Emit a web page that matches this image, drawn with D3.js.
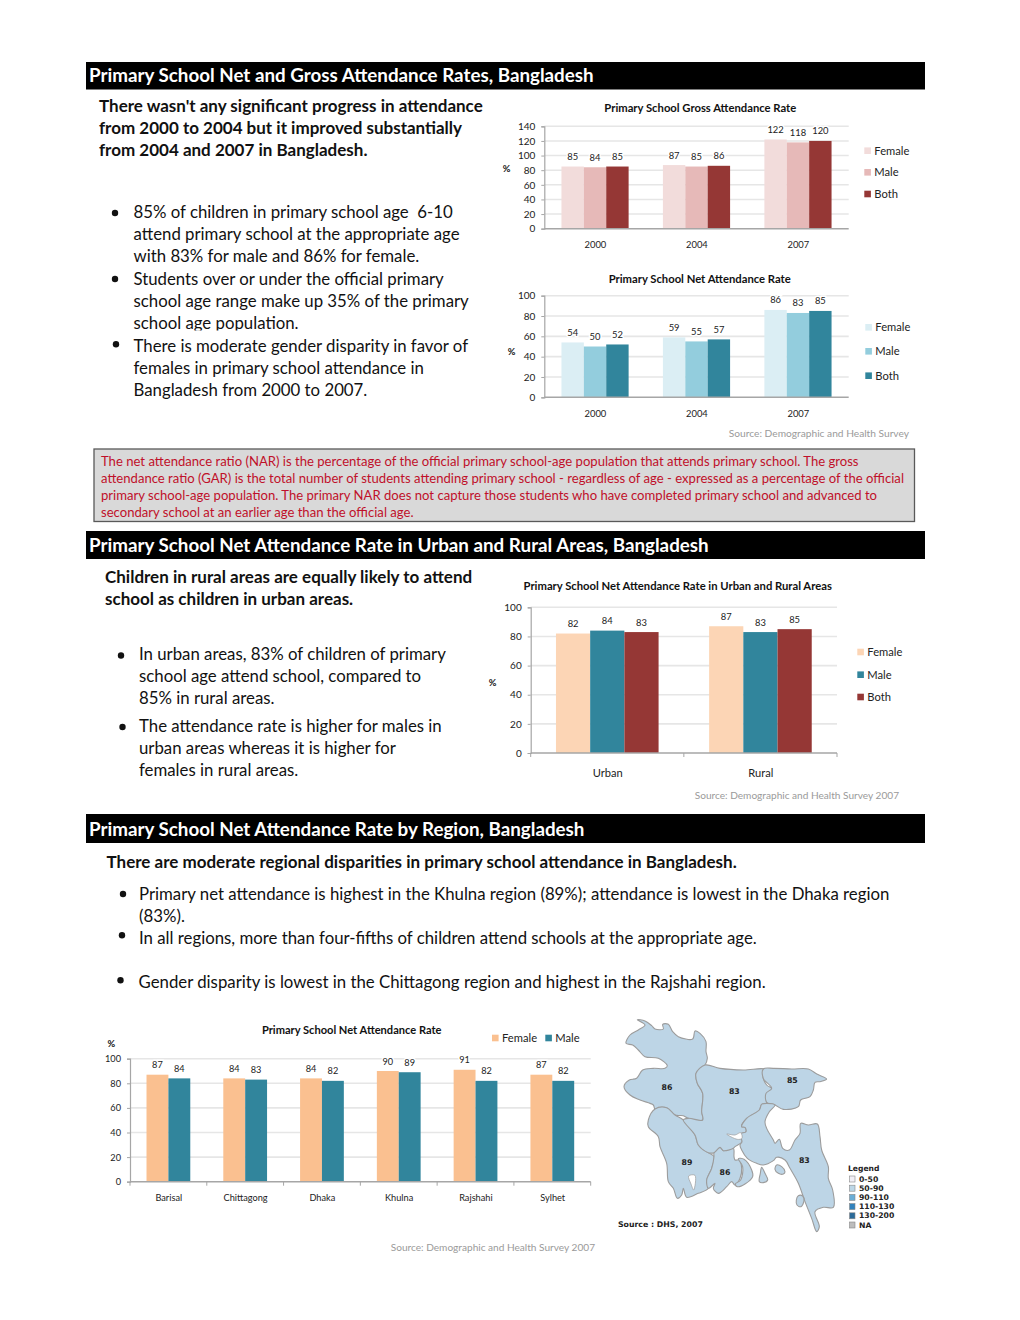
<!DOCTYPE html>
<html><head><meta charset="utf-8">
<script src="https://cdnjs.cloudflare.com/ajax/libs/d3/7.8.5/d3.min.js"></script>
<style>html,body{margin:0;background:#fff}svg{display:block}text{font-family:Lato,"Open Sans",sans-serif}</style>
</head><body><svg id="c" width="1020" height="1320"></svg>
<script>
// ---------- data ----------
const years = ["2000","2004","2007"];
const gender3 = ["Female","Male","Both"];
const gender2 = ["Female","Male"];
const grossFemale = [85,87,122], grossMale = [84,85,118], grossBoth = [85,86,120];
const netFemale = [54,59,86], netMale = [50,55,83], netBoth = [52,57,85];
const areas = ["Urban","Rural"];
const areaFemale = [82,87], areaMale = [84,83], areaBoth = [83,85];
const regions = ["Barisal","Chittagong","Dhaka","Khulna","Rajshahi","Sylhet"];
const regionFemale = [87,84,84,90,91,87], regionMale = [84,83,82,89,82,82];
const grossTicks = [0,20,40,60,80,100,120,140], pctTicks = [0,20,40,60,80,100];
const headers = ["Primary School Net and Gross Attendance Rates, Bangladesh","Primary School Net Attendance Rate in Urban and Rural Areas, Bangladesh","Primary School Net Attendance Rate by Region, Bangladesh"];
const intro1 = ["There wasn't any significant progress in attendance","from 2000 to 2004 but it improved substantially","from 2004 and 2007 in Bangladesh."];
const bullets1 = ["85% of children in primary school age  6-10","attend primary school at the appropriate age","with 83% for male and 86% for female.","Students over or under the official primary","school age range make up 35% of the primary","school age population.","There is moderate gender disparity in favor of","females in primary school attendance in","Bangladesh from 2000 to 2007."];
const note = ["The net attendance ratio (NAR) is the percentage of the official primary school-age population that attends primary school. The gross","attendance ratio (GAR) is the total number of students attending primary school - regardless of age - expressed as a percentage of the official","primary school-age population. The primary NAR does not capture those students who have completed primary school and advanced to","secondary school at an earlier age than the official age."];
const intro2 = ["Children in rural areas are equally likely to attend","school as children in urban areas."];
const bullets2 = ["In urban areas, 83% of children of primary","school age attend school, compared to","85% in rural areas.","The attendance rate is higher for males in","urban areas whereas it is higher for","females in rural areas."];
const intro3 = "There are moderate regional disparities in primary school attendance in Bangladesh.";
const bullets3 = ["Primary net attendance is highest in the Khulna region (89%); attendance is lowest in the Dhaka region","(83%).","In all regions, more than four-fifths of children attend schools at the appropriate age.","Gender disparity is lowest in the Chittagong region and highest in the Rajshahi region."];
const mapLegend = ["0-50","50-90","90-110","110-130","130-200","NA"];
const mapLegendColors = ["#f2f0f7","#bdd7e7","#6baed6","#3182bd","#2b6a99","#bdbdbd"];
// map outlines, in a 960x690 tracing grid
const rajshahi = [[112,29],[135,33],[155,47],[165,57],[190,57],[188,43],[205,43],[218,65],[235,80],[278,87],[285,63],[300,70],[318,95],[318,125],[322,145],[315,165],[288,190],[292,220],[308,250],[305,305],[308,330],[265,325],[250,317],[225,315],[200,293],[165,297],[160,285],[120,270],[90,255],[72,230],[88,210],[110,205],[128,180],[160,175],[195,175],[202,167],[175,145],[135,140],[115,120],[98,105],[78,100],[90,75],[115,60],[135,45]];
const khulna = [[165,297],[145,330],[145,350],[175,380],[180,410],[200,460],[205,515],[220,535],[232,565],[245,555],[250,535],[260,562],[295,550],[325,535],[320,510],[335,475],[342,440],[325,428],[295,405],[285,375],[250,330],[225,315],[200,293]];
const barisal = [[342,428],[360,412],[370,422],[400,415],[402,440],[405,450],[418,450],[425,475],[420,505],[405,525],[395,515],[380,530],[355,550],[340,535],[345,520],[325,535],[320,510],[335,475],[342,440]];
const bhola = [[415,446],[432,448],[455,480],[458,500],[435,522],[412,530],[406,522],[422,510],[428,470]];
const dhaka = [[288,190],[315,165],[360,175],[430,180],[495,178],[488,195],[500,225],[518,238],[500,262],[500,280],[485,283],[478,300],[440,325],[425,350],[435,352],[438,365],[420,372],[426,395],[405,410],[400,415],[370,422],[360,412],[342,428],[325,428],[295,405],[285,375],[250,330],[265,325],[308,330],[305,305],[308,250],[292,220]];
const sylhet = [[490,177],[520,175],[575,177],[625,177],[652,193],[680,207],[660,215],[645,217],[640,240],[630,260],[602,270],[595,290],[550,298],[525,285],[500,277],[498,250],[515,235],[490,205]];
const chittagong = [[500,280],[525,285],[508,305],[495,335],[500,355],[520,390],[525,400],[538,388],[548,415],[568,420],[585,390],[600,370],[602,340],[625,345],[652,342],[660,380],[665,420],[685,470],[685,505],[698,540],[700,592],[670,592],[645,605],[658,650],[650,665],[635,625],[615,575],[595,520],[570,475],[555,450],[530,442],[520,452],[490,465],[470,460],[442,445],[425,420],[420,405],[426,395],[420,372],[438,365],[435,352],[425,350],[440,325],[478,300],[485,283]];
const isle1 = [[530,465],[545,470],[555,485],[550,492],[535,490],[525,478]];
const isle2 = [[485,472],[495,490],[503,510],[490,518],[478,515],[481,490]];
const isle3 = [[595,557],[608,558],[612,572],[603,590],[591,585],[589,570]];
const water1 = [[380,372],[405,375],[422,368],[426,385],[412,388]];
const water2 = [[266,498],[285,496],[281,540],[273,522]];
const mapValues = [{t:"86",u:201,v:232},{t:"83",u:403,v:245},{t:"85",u:577,v:210},{t:"89",u:261,v:456},{t:"86",u:375,v:486},{t:"83",u:613,v:452}];

// ---------- helpers ----------
const svg = d3.select("#c");
const BODY = 16.8, BOLD = 17;
function txt(x,y,s,o={}){
  return svg.append("text").attr("x",x).attr("y",y).text(s)
    .attr("font-size",o.size||BODY).attr("font-weight",o.bold?700:400)
    .attr("fill",o.fill||"#111").attr("text-anchor",o.anchor||"start")
    .attr("dominant-baseline",o.mid?"central":null)
    .style("white-space","pre");
}
function bullet(x,y){svg.append("circle").attr("cx",x).attr("cy",y).attr("r",3.2).attr("fill","#111");}
function header(y,h,dy,s){
  svg.append("rect").attr("x",86).attr("y",y).attr("width",839).attr("height",h).attr("fill","#000");
  txt(89,y+dy,s,{size:18.8,bold:true,fill:"#fff"});
}
function chart(o){
  const g = svg.append("g");
  const x = d3.scaleBand().domain(o.cats).range([o.x0,o.x1]).paddingInner(o.pad).paddingOuter(o.pad/2);
  const sub = d3.scaleBand().domain(o.series.map((d,i)=>i)).range([0,x.bandwidth()]);
  const y = d3.scaleLinear().domain([0,o.max]).range([o.y0,o.y1]);
  g.selectAll("line.grid").data(o.ticks.filter(t=>t>0)).join("line").attr("class","grid")
    .attr("x1",o.x0).attr("x2",o.x1).attr("y1",d=>y(d)).attr("y2",d=>y(d))
    .attr("stroke","#e6e6e6").attr("stroke-width",1.6);
  const ya = d3.axisLeft(y).tickValues(o.ticks).tickSize(3).tickPadding(o.tickPad||6);
  const yg = g.append("g").attr("transform",`translate(${o.x0},0)`).call(ya);
  yg.selectAll("text").attr("font-size",o.tickSize||10).attr("fill","#222").style("font-family","Lato");
  yg.selectAll("line,path").attr("stroke","#a6a6a6");
  yg.select("path").attr("stroke-width",1.2);
  o.series.forEach((vals,i)=>{
    g.selectAll(null).data(vals).join("rect")
      .attr("x",(d,k)=>x(o.cats[k])+sub(i)).attr("width",sub.bandwidth())
      .attr("y",d=>y(d)).attr("height",d=>o.y0-y(d)).attr("fill",o.colors[i]);
  });
  o.series.forEach((vals,i)=>{
    g.selectAll(null).data(vals).join("text")
      .attr("x",(d,k)=>x(o.cats[k])+sub(i)+sub.bandwidth()/2)
      .attr("y",d=>y(d)-10).attr("text-anchor","middle").attr("dominant-baseline","central")
      .attr("font-size",o.labelSize||9.4).attr("fill","#222")
      .attr("stroke","#fff").attr("stroke-width",3).attr("paint-order","stroke").text(d=>d);
  });
  g.append("line").attr("x1",o.x0).attr("x2",o.x1).attr("y1",o.y0).attr("y2",o.y0).attr("stroke","#a6a6a6").attr("stroke-width",1.6);
  if(o.catTicks){
    const edges = o.cats.map((c,i)=>o.x0+(o.x1-o.x0)*i/o.cats.length).concat(o.x1);
    g.selectAll(null).data(edges).join("line").attr("x1",d=>d).attr("x2",d=>d).attr("y1",o.y0).attr("y2",o.y0+4).attr("stroke","#a6a6a6");
  }
  g.selectAll(null).data(o.cats).join("text").attr("x",d=>x(d)+x.bandwidth()/2+.4).attr("y",o.catY)
    .attr("text-anchor","middle").attr("dominant-baseline","central").attr("font-size",o.catSize||9.4).attr("fill","#222").text(d=>d);
  txt(o.titleX,o.titleY,o.title,{size:o.titleSize||11.25,bold:true,anchor:"middle",mid:true});
  txt(o.pctX,o.pctY,"%",{size:9.4,bold:true,anchor:"middle",mid:true});
  o.legend.forEach((l,i)=>{
    g.append("rect").attr("x",l.x).attr("y",l.y-3.3).attr("width",6.6).attr("height",6.6).attr("fill",o.colors[i]);
    txt(l.x+(o.legGap||10),l.y-.5,o.legendNames[i],{size:o.legendSize||11.2,mid:true,fill:"#222"});
  });
}

// ---------- section 1 ----------
header(62,27.5,20,headers[0]);
intro1.forEach((s,i)=>txt(99,111.5+22*i,s,{bold:true,size:BOLD}));
[217.7,239.7,261.7,285,307,329,351.7,373.7,395.7].forEach((y,i)=>txt(133.5,y,bullets1[i]));
svg.append("rect").attr("x",130).attr("y",330.5).attr("width",180).attr("height",5).attr("fill","#fff");
[[115,213],[115,279],[116,344.3]].forEach(p=>bullet(p[0],p[1]));

chart({cats:years,series:[grossFemale,grossMale,grossBoth],colors:["#f2dcdb","#e6b9b8","#953735"],x0:544.3,x1:848.7,y0:228.7,y1:126.3,max:140,ticks:grossTicks,pad:0.338,
  catY:244.7,title:"Primary School Gross Attendance Rate",titleX:700.3,titleY:107,pctX:506.7,pctY:168.3,legendNames:gender3,
  legend:[{x:864.3,y:150.7},{x:864.3,y:172.3},{x:864.3,y:194}]});
chart({cats:years,series:[netFemale,netMale,netBoth],colors:["#dbeef4","#93cddd","#31859c"],x0:544.3,x1:848.7,y0:397.3,y1:295.7,max:100,ticks:pctTicks,pad:0.338,
  catY:413.3,title:"Primary School Net Attendance Rate",titleX:699.7,titleY:278.3,pctX:511.7,pctY:351.7,legendNames:gender3,
  legend:[{x:865.3,y:327.3},{x:865.3,y:351.3},{x:865.3,y:375.7}]});
txt(909,433,"Source: Demographic and Health Survey",{size:10.2,fill:"#9a9a9a",anchor:"end",mid:true});

svg.append("rect").attr("x",94).attr("y",449).attr("width",820.5).attr("height",72.5).attr("fill","#d9d9d9").attr("stroke","#595959").attr("stroke-width",1.3);
note.forEach((s,i)=>txt(101,465.7+17*i,s,{size:13.1,fill:"#c0102a"}));

// ---------- section 2 ----------
header(531,28,20.5,headers[1]);
intro2.forEach((s,i)=>txt(105,582.7+22*i,s,{bold:true,size:BOLD}));
[660,682,704,732,754,776].forEach((y,i)=>txt(139,y,bullets2[i]));
[[121,655.5],[122.5,727]].forEach(p=>bullet(p[0],p[1]));
chart({cats:areas,series:[areaFemale,areaMale,areaBoth],colors:["#fcd5b5","#31859c","#953735"],x0:530.7,x1:837,y0:753,y1:607.3,max:100,ticks:pctTicks,pad:0.33,catTicks:true,
  catY:772,catSize:11.1,title:"Primary School Net Attendance Rate in Urban and Rural Areas",titleX:677.7,titleY:585,pctX:492.7,pctY:682,legendNames:gender3,
  legend:[{x:857.3,y:652},{x:857.3,y:674.7},{x:857.3,y:697}]});
txt(899,795,"Source: Demographic and Health Survey 2007",{size:10.1,fill:"#9a9a9a",anchor:"end",mid:true});

// ---------- section 3 ----------
header(814,29,21.5,headers[2]);
txt(106.5,868,intro3,{bold:true,size:BOLD});
txt(139,900,bullets3[0]); txt(139,921.7,bullets3[1]); txt(139,943.7,bullets3[2]); txt(138.5,988,bullets3[3]);
[[123,894],[122,935.3],[120.5,980.3]].forEach(p=>bullet(p[0],p[1]));
chart({cats:regions,series:[regionFemale,regionMale],colors:["#fac090","#31859c"],x0:130,x1:590.7,y0:1181.7,y1:1058.7,max:100,ticks:pctTicks,pad:0.43,catTicks:true,
  catY:1197.7,catSize:9.2,title:"Primary School Net Attendance Rate",titleX:351.7,titleY:1029.3,titleSize:11.1,pctX:111.3,pctY:1043.7,legendNames:gender2,labelSize:9.2,tickSize:9.2,
  legend:[{x:492,y:1038},{x:545.3,y:1038}]});
txt(595,1247,"Source: Demographic and Health Survey 2007",{size:10.1,fill:"#9a9a9a",anchor:"end",mid:true});

// ---------- map ----------
const mx = d3.scaleLinear().domain([0,960]).range([600,920]);
const my = d3.scaleLinear().domain([0,690]).range([1010,1240]);
const mapLine = d3.line().x(d=>mx(d[0])).y(d=>my(d[1])).curve(d3.curveCatmullRomClosed.alpha(0.5));
const land = [rajshahi,khulna,barisal,bhola,dhaka,sylhet,chittagong,isle1,isle2,isle3];
svg.append("g").selectAll("path").data(land).join("path").attr("d",mapLine).attr("fill","#bdd5e6").attr("stroke","#9c9c9c").attr("stroke-width",1.1).attr("stroke-linejoin","round");
svg.append("g").selectAll("path").data([water1,water2]).join("path").attr("d",mapLine).attr("fill","#fff").attr("stroke","#9c9c9c").attr("stroke-width",0.7);
const MF = "DejaVu Sans";
svg.append("g").selectAll("text").data(mapValues).join("text").attr("x",d=>mx(d.u)).attr("y",d=>my(d.v))
  .attr("text-anchor","middle").attr("dominant-baseline","central").attr("font-size",7.8).attr("font-weight",700).attr("fill","#222").style("font-family",MF).text(d=>d.t);
txt(618,1224,"Source : DHS, 2007",{size:7.8,bold:true,fill:"#222",mid:true}).style("font-family",MF);
txt(848,1168.5,"Legend",{size:7.6,bold:true,fill:"#222",mid:true}).style("font-family",MF);
const ly = d3.scalePoint().domain(mapLegend).range([1179,1225]);
mapLegend.forEach((s,i)=>{
  svg.append("rect").attr("x",849.5).attr("y",ly(s)-3).attr("width",5.5).attr("height",6).attr("fill",mapLegendColors[i]).attr("stroke","#888").attr("stroke-width",.6);
  txt(859,ly(s),s,{size:7.7,bold:true,fill:"#222",mid:true}).style("font-family",MF);
});
</script></body></html>
